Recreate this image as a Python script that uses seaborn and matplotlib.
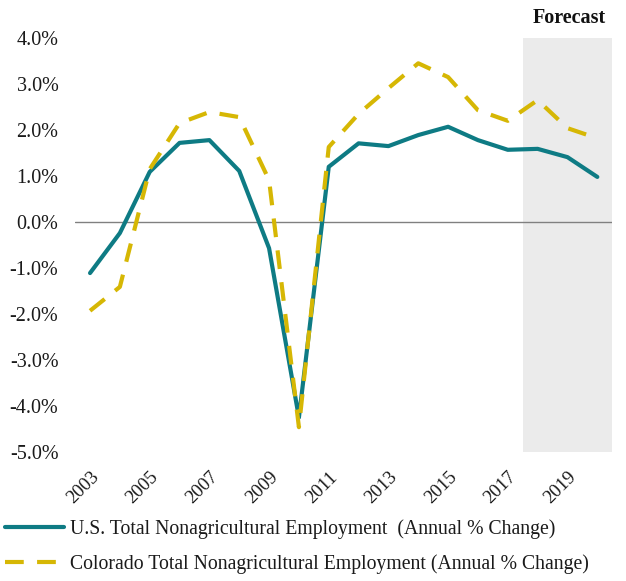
import matplotlib
matplotlib.use("Agg")
import matplotlib.pyplot as plt
import seaborn as sns
import pandas as pd

years = list(range(2003, 2021))
us_change = [-1.11, -0.24, 1.09, 1.72, 1.78, 1.11, -0.57, -4.25, 1.20, 1.71,
             1.65, 1.89, 2.07, 1.78, 1.57, 1.59, 1.41, 0.98]
co_change = [-1.93, -1.41, 1.15, 2.15, 2.39, 2.28, 0.91, -4.46, 1.63, 2.35,
             2.91, 3.45, 3.15, 2.43, 2.20, 2.65, 2.04, 1.82]
us_label = "U.S. Total Nonagricultural Employment  (Annual % Change)"
co_label = "Colorado Total Nonagricultural Employment (Annual % Change)"
tick_years = list(range(2003, 2021, 2))
y_ticks = [4, 3, 2, 1, 0, -1, -2, -3, -4, -5]
forecast_start, forecast_end = 2017.5, 2020.5

sns.set_theme(style="white")
plt.rcParams["font.family"] = ["Liberation Serif", "DejaVu Serif"]

teal = "#0E7B84"
gold = "#D6B704"
text_color = "#1A1A1A"

df = pd.DataFrame({"year": years, "US": us_change, "CO": co_change})

fig = plt.figure(figsize=(6.26, 5.81), dpi=100)
ax = fig.add_axes([0.12, 0.222, 0.858, 0.7126])

ax.axvspan(forecast_start, forecast_end, color="#EBEBEB", lw=0, zorder=0)
ax.axhline(0, color="#808080", lw=1.0, zorder=1)

sns.lineplot(data=df, x="year", y="US", ax=ax, color=teal, lw=3.0,
             label=us_label, zorder=3)
sns.lineplot(data=df, x="year", y="CO", ax=ax, color=gold, lw=3.0,
             label=co_label, zorder=4)
ax.lines[-1].set_dashes([4.5, 3.2])

ax.set_xlim(2002.5, 2020.5)
ax.set_ylim(-5, 4)
ax.set_xticks(tick_years)
ax.set_xticklabels([str(y) for y in tick_years], rotation=45, ha="right",
                   rotation_mode="anchor", fontsize=13.5, color=text_color)
ax.set_yticks(y_ticks)
ax.set_yticklabels([f"{v:.1f}%" for v in y_ticks], fontsize=14.5,
                   color=text_color)
ax.tick_params(axis="y", length=0, pad=12)
ax.tick_params(axis="x", length=0, pad=12)
ax.set_xlabel("")
ax.set_ylabel("")
for s in ax.spines.values():
    s.set_visible(False)

ax.text(forecast_end - 0.2, 4.22, "Forecast", ha="right", va="bottom",
        fontsize=14.5, fontweight="bold", color="#111111")

handles, labels = ax.get_legend_handles_labels()
ax.get_legend().remove()
fig.legend(handles, labels, loc="upper left", bbox_to_anchor=(0.008, 0.107),
           frameon=False, fontsize=14.2, handlelength=3.0, handletextpad=0.3,
           labelspacing=0.8, borderaxespad=0, borderpad=0.0,
           labelcolor=text_color)

fig.savefig("out.png", dpi=100)
